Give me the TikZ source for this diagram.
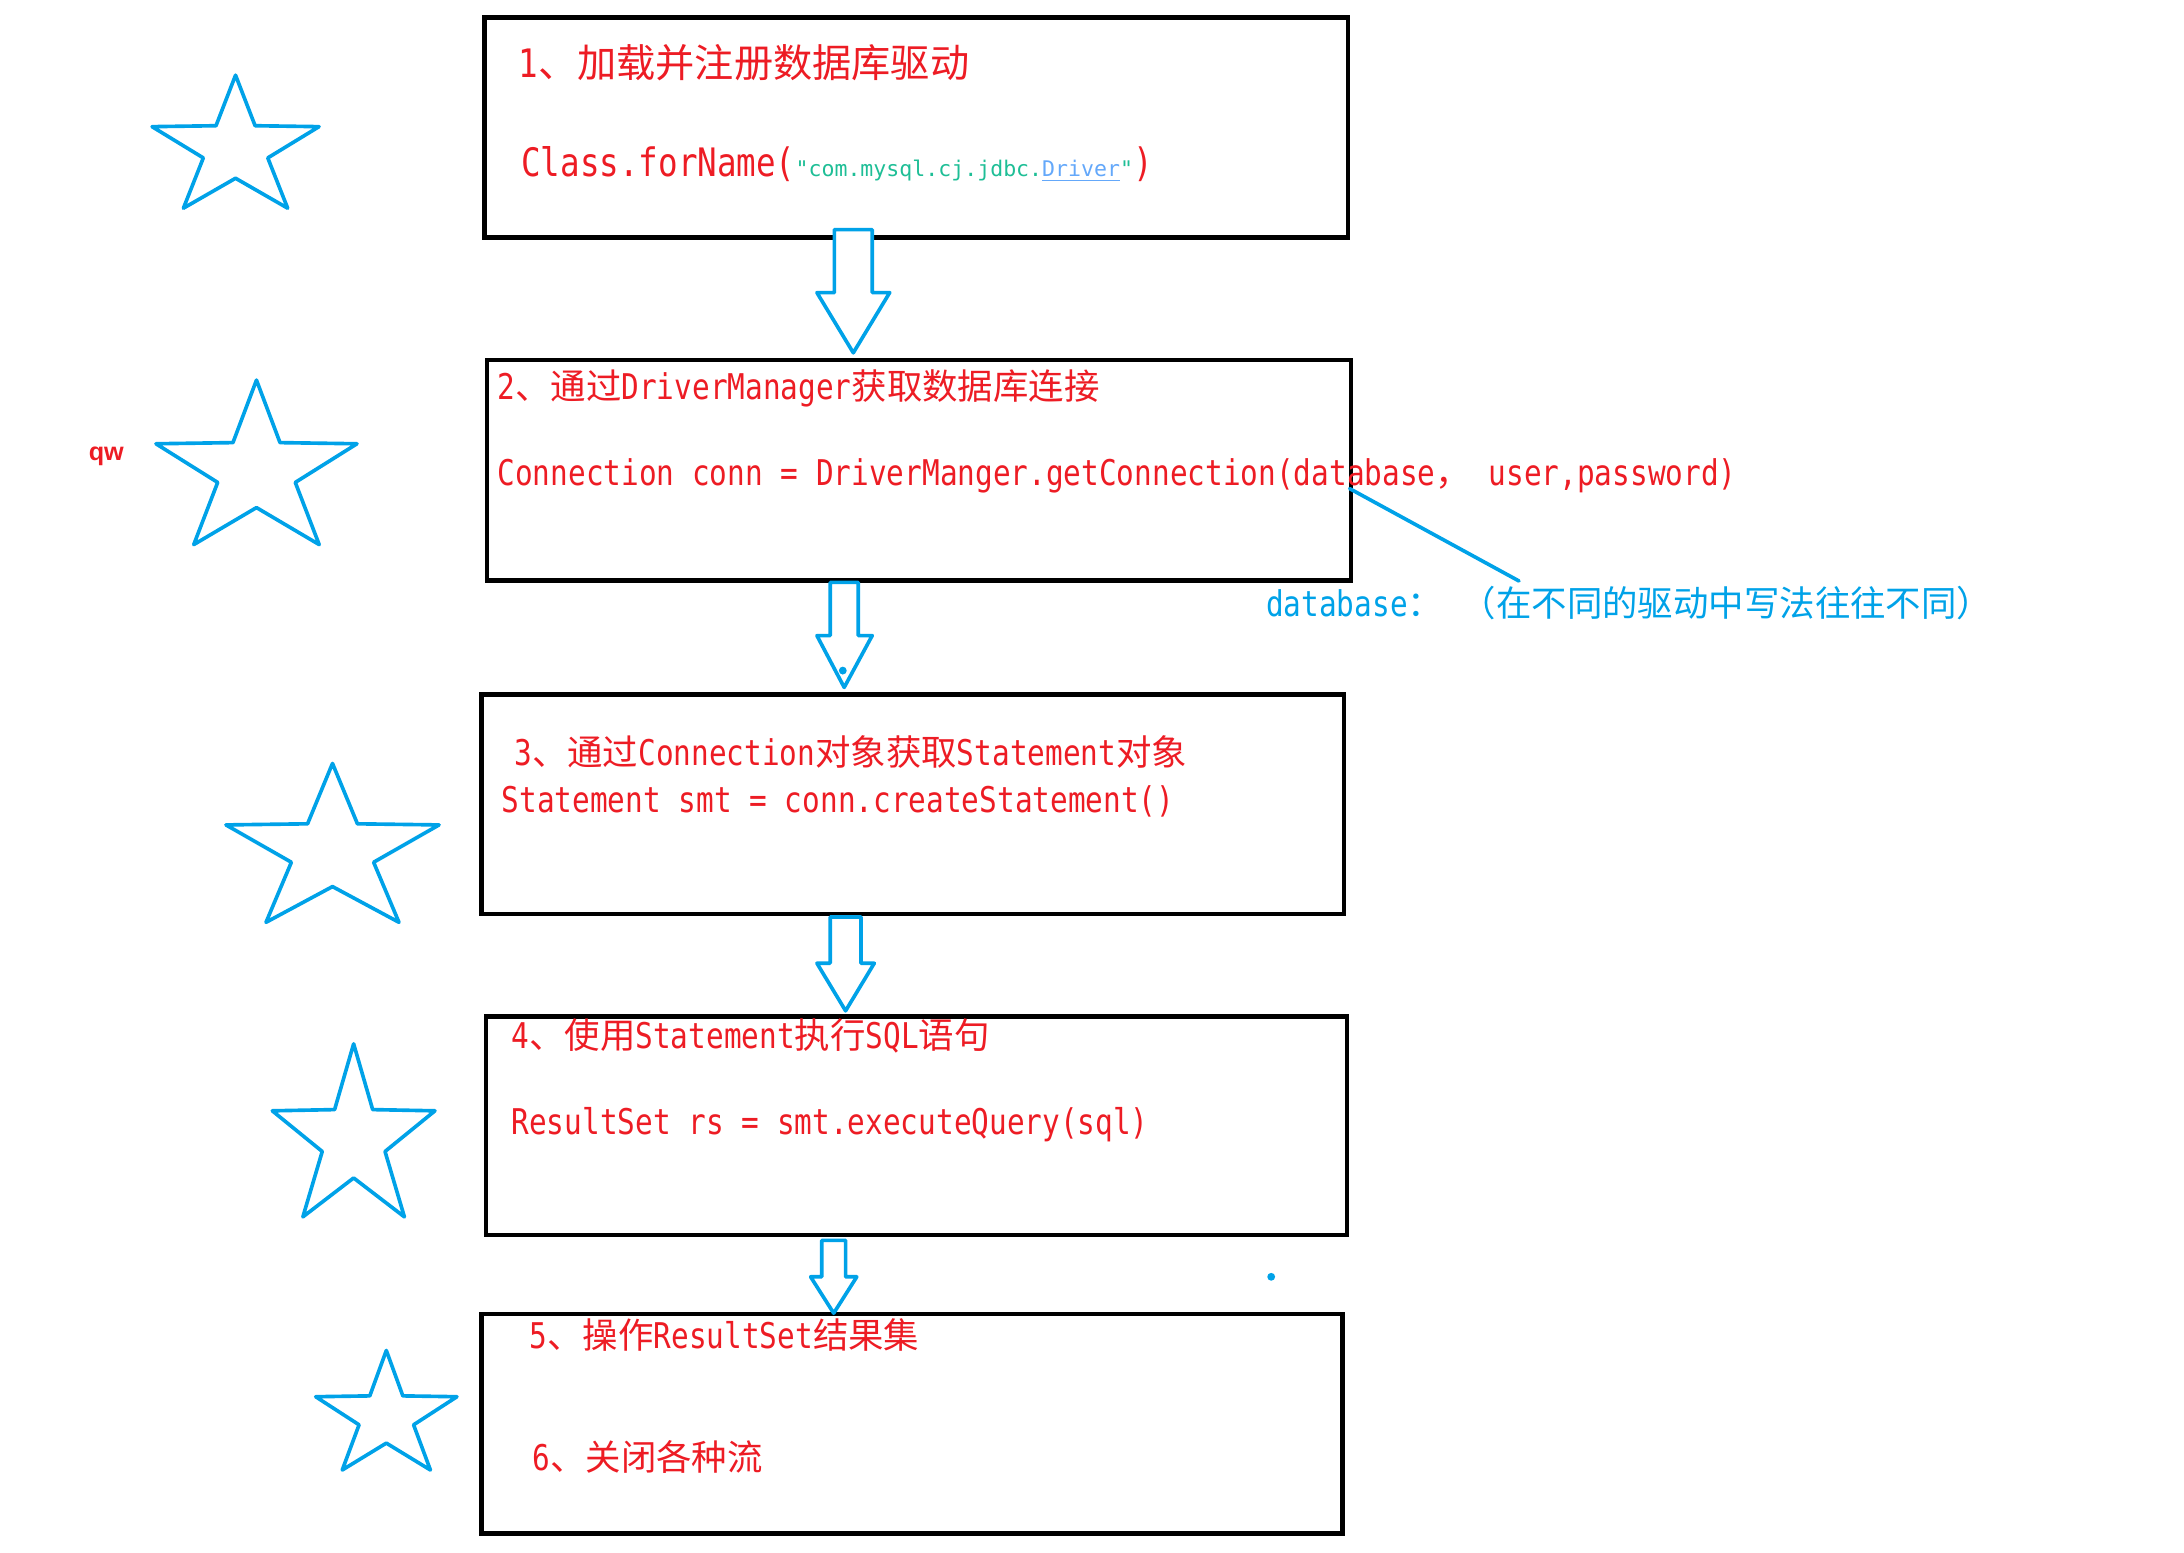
\documentclass[tikz,border=0pt]{standalone}
\usepackage{fontspec}
\newfontfamily\zhfont{Noto Sans CJK SC}
\newfontfamily\codefont[FakeStretch=0.83,Ligatures=TeXOff]{DejaVu Sans Mono}
\newfontfamily\jdbcfont[Ligatures=TeXOff]{DejaVu Sans Mono}
\newfontfamily\markfont{Liberation Sans}
\newcommand{\zh}[1]{{\zhfont #1}}

\definecolor{boxred}{RGB}{237,28,36}
\definecolor{paintblue}{RGB}{0,162,232}
\definecolor{jdbcgreen}{RGB}{30,190,150}
\definecolor{linkblue}{RGB}{100,168,250}

\tikzset{
  stepbox/.style={draw, line width=1.6pt, inner sep=0pt},
  steptext/.style={anchor=base west, inner sep=0pt, text=boxred,
    font=\codefont\fontsize{12.65}{15}\selectfont},
  bigtext/.style={font=\codefont\fontsize{14}{16}\selectfont},
  bluepen/.style={draw=paintblue, line width=1.3pt, line join=round, line cap=round},
  starmark/.pic={
    \draw[bluepen] (0.5,0) -- (0.617,0.38) -- (1,0.387) -- (0.693,0.622)
      -- (0.812,1) -- (0.5,0.775) -- (0.188,1) -- (0.307,0.622)
      -- (0,0.387) -- (0.383,0.38) -- cycle;
  }
}

\begin{document}
\begin{tikzpicture}[x=0.5pt,y=-0.5pt]
  \useasboundingbox (0,0) rectangle (1560,1108.6);

  % the five steps
  \node[stepbox, minimum width=308.5pt, minimum height=78.5pt]  (b1) at (654.5,91)    {};
  \node[stepbox, minimum width=308.5pt, minimum height=78.75pt] (b2) at (656.5,335.75){};
  \node[stepbox, minimum width=308pt,   minimum height=78.5pt]  (b3) at (652,574.5)   {};
  \node[stepbox, minimum width=307.5pt, minimum height=78pt]    (b4) at (654.5,804)   {};
  \node[stepbox, minimum width=307.5pt, minimum height=78.5pt]  (b5) at (651.5,1017)  {};

  \begin{scope}[every node/.style={steptext}]
    \node[bigtext] (s1title) at (370,55) {1\zh{、加载并注册数据库驱动}};
    \node[bigtext] (s1code)  at (372,126) {Class.forName({\jdbcfont\fontsize{7.7}{9}\selectfont\color{jdbcgreen}"com.mysql.cj.jdbc.{\color{linkblue}\underline{Driver}}"})};
    \node (s2title) at (355,285) {2\zh{、通过}DriverManager\zh{获取数据库连接}};
    \node (s2code)  at (355,347) {Connection conn = DriverManger.getConnection(database\zh{，} user,password)};
    \node[text=paintblue] (dbnote) at (904,440) {database\zh{：}\ \zh{（在不同的驱动中写法往往不同）}};
    \node (s3title) at (367,547) {3\zh{、通过}Connection\zh{对象获取}Statement\zh{对象}};
    \node (s3code)  at (358,580) {Statement smt = conn.createStatement()};
    \node (s4title) at (365,749) {4\zh{、使用}Statement\zh{执行}SQL\zh{语句}};
    \node (s4code)  at (365,810) {ResultSet rs = smt.executeQuery(sql)};
    \node (s5title) at (378,963) {5\zh{、操作}ResultSet\zh{结果集}};
    \node (s6title) at (380,1050) {6\zh{、关闭各种流}};
  \end{scope}

  \node[anchor=base west, inner sep=0pt, text=boxred,
        font=\markfont\bfseries\fontsize{9}{10}\selectfont] (qw) at (63,329) {qw};

  % stars
  \pic[xscale=119.3, yscale=95]    at (108.6,53.7)  {starmark};
  \pic[xscale=143.6, yscale=117.5] at (111.4,271.5) {starmark};
  \pic[xscale=152.2, yscale=113.5] at (161.4,545.3) {starmark};
  \pic[xscale=116.2, yscale=123.6] at (194.5,745.6) {starmark};
  \pic[xscale=100.9, yscale=85.4]  at (225.5,964.6) {starmark};

  % block arrows
  \draw[bluepen, fill=white] (596,164) -- (596,209) -- (583.5,209) -- (609.5,252)
    -- (635.5,209) -- (623,209) -- (623,164) -- cycle;
  \draw[bluepen, fill=white] (593,416) -- (593,454) -- (583.5,454) -- (603,491)
    -- (623,454) -- (613,454) -- (613,416) -- cycle;
  \draw[bluepen, fill=white] (593,655) -- (593,688) -- (583.5,688) -- (604,722)
    -- (624.5,688) -- (615,688) -- (615,655) -- cycle;
  \draw[bluepen, fill=white] (587,886) -- (587,912) -- (579,912) -- (595.5,938)
    -- (612,912) -- (604,912) -- (604,886) -- cycle;
  \fill[paintblue] (602,479) circle[radius=1.4pt];
  \fill[paintblue] (908,912) circle[radius=1.4pt];

  % note on database
  \coordinate (dbmark)   at (964,349);
  \coordinate (notetail) at (1085,415);
  \draw[bluepen] (dbmark) -- (notetail);

\end{tikzpicture}
\end{document}
